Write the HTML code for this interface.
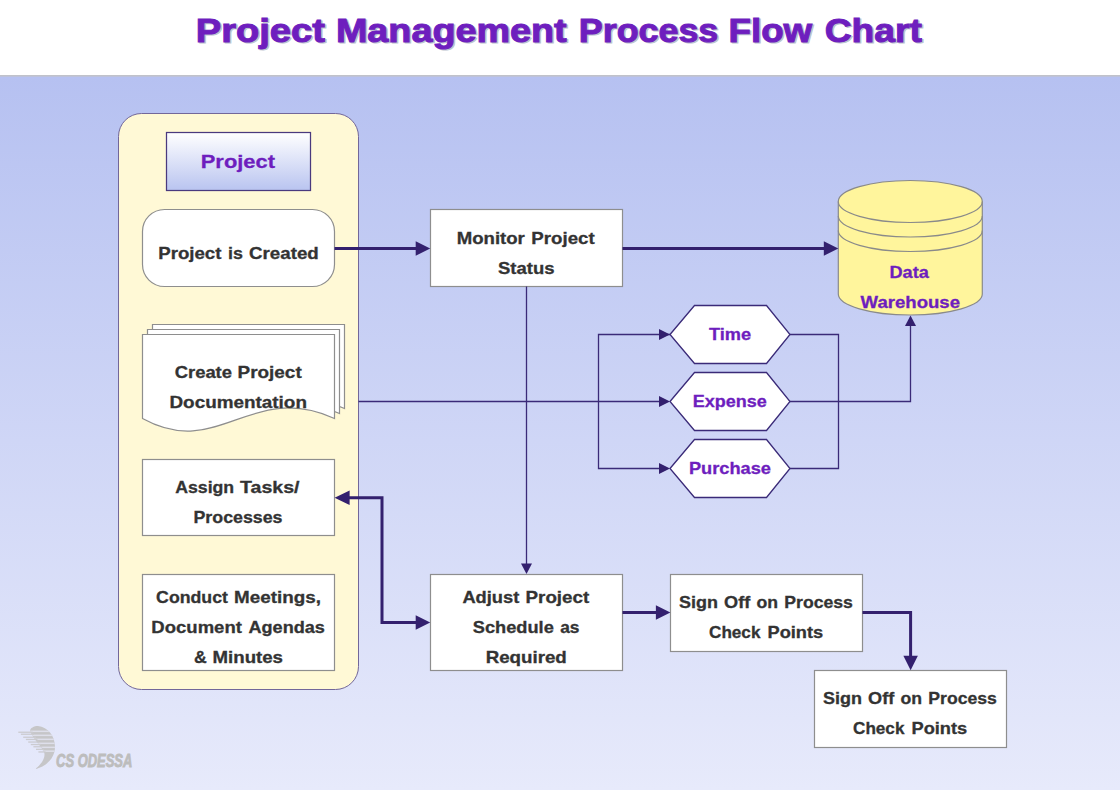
<!DOCTYPE html>
<html><head><meta charset="utf-8"><style>
html,body{margin:0;padding:0;width:1120px;height:790px;overflow:hidden;background:#fff}
svg{display:block;font-family:"Liberation Sans",sans-serif;font-weight:bold}
</style></head><body>
<svg width="1120" height="790" viewBox="0 0 1120 790">
<defs>
<linearGradient id="bg" x1="0" y1="0" x2="0" y2="1">
<stop offset="0" stop-color="#B6C1F1"/><stop offset="1" stop-color="#E7EAFB"/>
</linearGradient>
<linearGradient id="hdr" x1="0" y1="0" x2="0" y2="1">
<stop offset="0" stop-color="#FFFFFF"/><stop offset="1" stop-color="#B9C4F0"/>
</linearGradient>
<linearGradient id="sep" x1="0" y1="0" x2="0" y2="1">
<stop offset="0" stop-color="#C2C2C2"/><stop offset="1" stop-color="#BCC2E2"/>
</linearGradient>
</defs>
<rect x="0" y="0" width="1120" height="790" fill="#FFFFFF"/>
<rect x="0" y="77" width="1120" height="713" fill="url(#bg)"/>
<rect x="0" y="75" width="1120" height="2" fill="url(#sep)"/>
<clipPath id="blobclip"><path d="M38,726 C48,727 55,736 55,747 C55,758 46,767 35,769 C42,764 46,757 44,752 C40,745 32,737 30,731 C30,728 34,726 38,726 Z"/></clipPath><path d="M38,726 C48,727 55,736 55,747 C55,758 46,767 35,769 C42,764 46,757 44,752 C40,745 32,737 30,731 C30,728 34,726 38,726 Z" fill="#C6C6C8"/><g clip-path="url(#blobclip)" fill="#DEDFEA"><rect x="20" y="730.6" width="40" height="1.5"/><rect x="20" y="734.6" width="40" height="1.5"/><rect x="20" y="738.6" width="40" height="1.5"/><rect x="20" y="742.6" width="40" height="1.5"/><rect x="20" y="746.6" width="40" height="1.5"/><rect x="20" y="750.4" width="40" height="1.5"/></g><rect x="18.3" y="731.6" width="14.48" height="1.3" fill="#CBCBD0"/><rect x="20.9" y="733.6" width="13.18" height="1.3" fill="#CBCBD0"/><rect x="23.2" y="736.6" width="12.83" height="1.3" fill="#CBCBD0"/><rect x="25.9" y="738.8" width="11.56" height="1.3" fill="#CBCBD0"/><rect x="28.2" y="741.4" width="10.95" height="1.3" fill="#CBCBD0"/><rect x="30.8" y="743.9" width="9.97" height="1.3" fill="#CBCBD0"/><rect x="33.4" y="746.1" width="8.81" height="1.3" fill="#CBCBD0"/><rect x="36" y="748.6999999999999" width="7.89" height="1.3" fill="#CBCBD0"/><rect x="38.4" y="751.3" width="7.18" height="1.3" fill="#CBCBD0"/>
<rect x="118.5" y="113.5" width="240" height="576" rx="23" ry="23" fill="#FFF9D6" stroke="#72679A" stroke-width="1.0"/><rect x="166.5" y="132.5" width="144" height="58" fill="url(#hdr)" stroke="#4A3A7E" stroke-width="1.25"/><rect x="142.5" y="209.5" width="192" height="77" rx="22" ry="22" fill="#FFFFFF" stroke="#8E8E8E" stroke-width="1.2"/><path d="M152.5,324.5 H344.5 V408.5 C260.5,370.5 228.5,450.5 152.5,408.5 Z" fill="#FFFFFF" stroke="#8E8E8E" stroke-width="1.2"/><path d="M147.5,329.5 H339.5 V413.5 C255.5,375.5 223.5,455.5 147.5,413.5 Z" fill="#FFFFFF" stroke="#8E8E8E" stroke-width="1.2"/><path d="M142.5,334.5 H334.5 V418.5 C250.5,380.5 218.5,460.5 142.5,418.5 Z" fill="#FFFFFF" stroke="#8E8E8E" stroke-width="1.2"/><rect x="142.5" y="459.5" width="192" height="76" fill="#FFFFFF" stroke="#8E8E8E" stroke-width="1.2"/><rect x="142.5" y="574.5" width="192" height="96" fill="#FFFFFF" stroke="#8E8E8E" stroke-width="1.2"/><rect x="430.5" y="209.5" width="192" height="77" fill="#FFFFFF" stroke="#8E8E8E" stroke-width="1.2"/><rect x="430.5" y="574.5" width="192" height="96" fill="#FFFFFF" stroke="#8E8E8E" stroke-width="1.2"/><rect x="670.5" y="574.5" width="192" height="77" fill="#FFFFFF" stroke="#8E8E8E" stroke-width="1.2"/><rect x="814.5" y="670.5" width="192" height="77" fill="#FFFFFF" stroke="#8E8E8E" stroke-width="1.2"/><polygon points="670,334.5 694.5,305.5 766.5,305.5 790,334.5 766.5,363.5 694.5,363.5" fill="#FFFFFF" stroke="#3A2A78" stroke-width="1.3"/><polygon points="670,401.5 694.5,372.5 766.5,372.5 790,401.5 766.5,430.5 694.5,430.5" fill="#FFFFFF" stroke="#3A2A78" stroke-width="1.3"/><polygon points="670,468.5 694.5,439.5 766.5,439.5 790,468.5 766.5,497.5 694.5,497.5" fill="#FFFFFF" stroke="#3A2A78" stroke-width="1.3"/>
<path d="M838.3,201.5 V294 A72,21 0 0 0 982.3,294 V201.5 A72,21 0 0 0 838.3,201.5 Z" fill="#FFF59C" stroke="#8A8A8A" stroke-width="1.2"/><path d="M838.3,201.5 A72,21 0 0 0 982.3,201.5" fill="none" stroke="#8A8A8A" stroke-width="1.2"/><path d="M838.3,216.0 A72,21 0 0 0 982.3,216.0" fill="none" stroke="#8A8A8A" stroke-width="1.2"/><path d="M838.3,230.5 A72,21 0 0 0 982.3,230.5" fill="none" stroke="#8A8A8A" stroke-width="1.2"/>
<path d="M526.5,286.5 V564" fill="none" stroke="#3A2A78" stroke-width="1.3"/><polygon points="526.50,574.00 521.00,563.50 532.00,563.50" fill="#33206E"/><path d="M358.5,401.5 H660" fill="none" stroke="#3A2A78" stroke-width="1.3"/><path d="M670,334.5 H598.5 V468.5 H660" fill="none" stroke="#3A2A78" stroke-width="1.3"/><polygon points="670.00,334.50 659.00,329.00 659.00,340.00" fill="#33206E"/><polygon points="670.00,401.50 659.00,396.00 659.00,407.00" fill="#33206E"/><polygon points="670.00,468.50 659.00,463.00 659.00,474.00" fill="#33206E"/><path d="M790,334.5 H838.5 V468.5 H790" fill="none" stroke="#3A2A78" stroke-width="1.3"/><path d="M790,401.5 H910.5 V326" fill="none" stroke="#3A2A78" stroke-width="1.3"/><polygon points="910.50,315.50 905.00,326.00 916.00,326.00" fill="#33206E"/><path d="M334.5,248.5 H417" fill="none" stroke="#33206E" stroke-width="3"/><polygon points="430.20,248.50 415.70,241.25 415.70,255.75" fill="#33206E"/><path d="M622.5,248.5 H825" fill="none" stroke="#33206E" stroke-width="3"/><polygon points="838.30,248.50 823.80,241.25 823.80,255.75" fill="#33206E"/><path d="M349,497.7 H382 V622.5 H417" fill="none" stroke="#33206E" stroke-width="3"/><polygon points="334.60,497.70 349.60,490.45 349.60,504.95" fill="#33206E"/><polygon points="430.20,622.50 415.70,615.25 415.70,629.75" fill="#33206E"/><path d="M622.5,612.5 H657" fill="none" stroke="#33206E" stroke-width="3"/><polygon points="670.40,612.50 655.90,605.25 655.90,619.75" fill="#33206E"/><path d="M862.5,612.5 H910.6 V657" fill="none" stroke="#33206E" stroke-width="3"/><polygon points="910.60,670.20 903.35,655.70 917.85,655.70" fill="#33206E"/>
<text transform="translate(197.29,43.20) scale(1.1548,1)" font-size="33" fill="#BCC4CE" stroke="#BCC4CE" stroke-width="1.0">Project</text><text transform="translate(195.79,41.70) scale(1.1548,1)" font-size="33" fill="#6E1EBE" stroke="#6E1EBE" stroke-width="1.0" style="">Project</text><text transform="translate(337.41,43.20) scale(1.1446,1)" font-size="33" fill="#BCC4CE" stroke="#BCC4CE" stroke-width="1.0">Management</text><text transform="translate(335.91,41.70) scale(1.1446,1)" font-size="33" fill="#6E1EBE" stroke="#6E1EBE" stroke-width="1.0" style="">Management</text><text transform="translate(580.33,43.20) scale(1.0858,1)" font-size="33" fill="#BCC4CE" stroke="#BCC4CE" stroke-width="1.0">Process</text><text transform="translate(578.83,41.70) scale(1.0858,1)" font-size="33" fill="#6E1EBE" stroke="#6E1EBE" stroke-width="1.0" style="">Process</text><text transform="translate(730.08,43.20) scale(1.1118,1)" font-size="33" fill="#BCC4CE" stroke="#BCC4CE" stroke-width="1.0">Flow</text><text transform="translate(728.58,41.70) scale(1.1118,1)" font-size="33" fill="#6E1EBE" stroke="#6E1EBE" stroke-width="1.0" style="">Flow</text><text transform="translate(826.27,43.20) scale(1.1258,1)" font-size="33" fill="#BCC4CE" stroke="#BCC4CE" stroke-width="1.0">Chart</text><text transform="translate(824.77,41.70) scale(1.1258,1)" font-size="33" fill="#6E1EBE" stroke="#6E1EBE" stroke-width="1.0" style="">Chart</text><text transform="translate(200.75,167.90) scale(1.1531,1)" font-size="19.0" fill="#6E1EBE" stroke="#6E1EBE" stroke-width="0.3" style="">Project</text><text transform="translate(158.26,258.70) scale(1.1447,1)" font-size="16.3" fill="#333333" stroke="#333333" stroke-width="0.3" style="">Project</text><text transform="translate(228.11,258.70) scale(1.0939,1)" font-size="16.3" fill="#333333" stroke="#333333" stroke-width="0.3" style="">is</text><text transform="translate(249.10,258.70) scale(1.1478,1)" font-size="16.3" fill="#333333" stroke="#333333" stroke-width="0.3" style="">Created</text><text transform="translate(174.70,378.10) scale(1.1299,1)" font-size="16.3" fill="#333333" stroke="#333333" stroke-width="0.3" style="">Create</text><text transform="translate(237.54,378.10) scale(1.1611,1)" font-size="16.3" fill="#333333" stroke="#333333" stroke-width="0.3" style="">Project</text><text transform="translate(169.44,408.00) scale(1.1600,1)" font-size="16.3" fill="#333333" stroke="#333333" stroke-width="0.3" style="">Documentation</text><text transform="translate(175.20,493.40) scale(1.0856,1)" font-size="16.3" fill="#333333" stroke="#333333" stroke-width="0.3" style="">Assign</text><text transform="translate(240.00,493.40) scale(1.2011,1)" font-size="16.3" fill="#333333" stroke="#333333" stroke-width="0.3" style="">Tasks/</text><text transform="translate(193.51,523.30) scale(1.0918,1)" font-size="16.3" fill="#333333" stroke="#333333" stroke-width="0.3" style="">Processes</text><text transform="translate(156.10,603.20) scale(1.0872,1)" font-size="16.3" fill="#333333" stroke="#333333" stroke-width="0.3" style="">Conduct</text><text transform="translate(234.04,603.20) scale(1.1555,1)" font-size="16.3" fill="#333333" stroke="#333333" stroke-width="0.3" style="">Meetings,</text><text transform="translate(151.36,632.70) scale(1.1367,1)" font-size="16.3" fill="#333333" stroke="#333333" stroke-width="0.3" style="">Document</text><text transform="translate(248.50,632.70) scale(1.1106,1)" font-size="16.3" fill="#333333" stroke="#333333" stroke-width="0.3" style="">Agendas</text><text transform="translate(194.00,662.70) scale(1.0833,1)" font-size="16.3" fill="#333333" stroke="#333333" stroke-width="0.3" style="">&amp;</text><text transform="translate(212.56,662.70) scale(1.1447,1)" font-size="16.3" fill="#333333" stroke="#333333" stroke-width="0.3" style="">Minutes</text><text transform="translate(456.66,244.20) scale(1.1425,1)" font-size="16.3" fill="#333333" stroke="#333333" stroke-width="0.3" style="">Monitor</text><text transform="translate(531.35,244.20) scale(1.1465,1)" font-size="16.3" fill="#333333" stroke="#333333" stroke-width="0.3" style="">Project</text><text transform="translate(498.00,274.20) scale(1.1347,1)" font-size="16.3" fill="#333333" stroke="#333333" stroke-width="0.3" style="">Status</text><text transform="translate(462.40,603.20) scale(1.1225,1)" font-size="16.3" fill="#333333" stroke="#333333" stroke-width="0.3" style="">Adjust</text><text transform="translate(525.55,603.20) scale(1.1538,1)" font-size="16.3" fill="#333333" stroke="#333333" stroke-width="0.3" style="">Project</text><text transform="translate(472.80,632.60) scale(1.1185,1)" font-size="16.3" fill="#333333" stroke="#333333" stroke-width="0.3" style="">Schedule</text><text transform="translate(560.20,632.60) scale(1.0634,1)" font-size="16.3" fill="#333333" stroke="#333333" stroke-width="0.3" style="">as</text><text transform="translate(485.65,662.60) scale(1.1499,1)" font-size="16.3" fill="#333333" stroke="#333333" stroke-width="0.3" style="">Required</text><text transform="translate(679.10,608.20) scale(1.1040,1)" font-size="16.3" fill="#333333" stroke="#333333" stroke-width="0.3" style="">Sign</text><text transform="translate(724.10,608.20) scale(1.1127,1)" font-size="16.3" fill="#333333" stroke="#333333" stroke-width="0.3" style="">Off</text><text transform="translate(756.40,608.20) scale(1.0821,1)" font-size="16.3" fill="#333333" stroke="#333333" stroke-width="0.3" style="">on</text><text transform="translate(784.32,608.20) scale(1.0818,1)" font-size="16.3" fill="#333333" stroke="#333333" stroke-width="0.3" style="">Process</text><text transform="translate(709.00,638.10) scale(1.0519,1)" font-size="16.3" fill="#333333" stroke="#333333" stroke-width="0.3" style="">Check</text><text transform="translate(767.48,638.10) scale(1.1192,1)" font-size="16.3" fill="#333333" stroke="#333333" stroke-width="0.3" style="">Points</text><text transform="translate(823.10,704.00) scale(1.1040,1)" font-size="16.3" fill="#333333" stroke="#333333" stroke-width="0.3" style="">Sign</text><text transform="translate(868.10,704.00) scale(1.1127,1)" font-size="16.3" fill="#333333" stroke="#333333" stroke-width="0.3" style="">Off</text><text transform="translate(900.40,704.00) scale(1.0821,1)" font-size="16.3" fill="#333333" stroke="#333333" stroke-width="0.3" style="">on</text><text transform="translate(928.32,704.00) scale(1.0818,1)" font-size="16.3" fill="#333333" stroke="#333333" stroke-width="0.3" style="">Process</text><text transform="translate(853.00,734.00) scale(1.0519,1)" font-size="16.3" fill="#333333" stroke="#333333" stroke-width="0.3" style="">Check</text><text transform="translate(911.48,734.00) scale(1.1192,1)" font-size="16.3" fill="#333333" stroke="#333333" stroke-width="0.3" style="">Points</text><text transform="translate(889.48,278.00) scale(1.1154,1)" font-size="16.3" fill="#6E1EBE" stroke="#6E1EBE" stroke-width="0.3" style="">Data</text><text transform="translate(860.60,307.90) scale(1.1401,1)" font-size="16.3" fill="#6E1EBE" stroke="#6E1EBE" stroke-width="0.3" style="">Warehouse</text><text transform="translate(709.00,340.00) scale(1.1182,1)" font-size="16.3" fill="#6E1EBE" stroke="#6E1EBE" stroke-width="0.3" style="">Time</text><text transform="translate(692.79,407.30) scale(1.1060,1)" font-size="16.3" fill="#6E1EBE" stroke="#6E1EBE" stroke-width="0.3" style="">Expense</text><text transform="translate(688.88,473.80) scale(1.1183,1)" font-size="16.3" fill="#6E1EBE" stroke="#6E1EBE" stroke-width="0.3" style="">Purchase</text><text transform="translate(56.10,766.80) scale(0.7311,1)" font-size="17.7" fill="#BDBDBD" stroke="#BDBDBD" stroke-width="0.9" style="font-style:italic;">CS ODESSA</text>
</svg>
</body></html>
